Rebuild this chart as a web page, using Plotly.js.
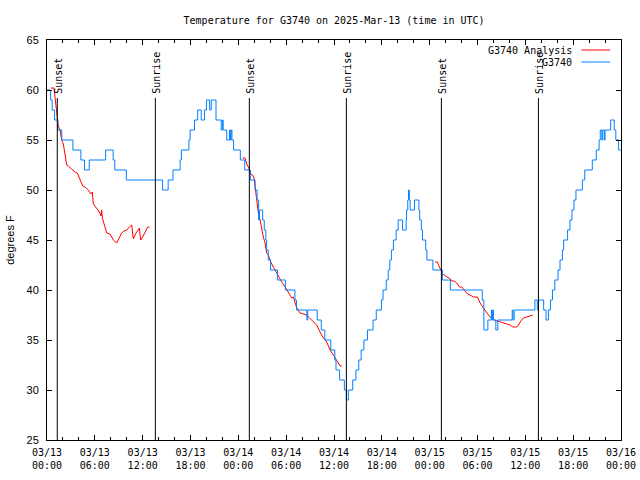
<!DOCTYPE html>
<html>
<head>
<meta charset="utf-8">
<script src="https://cdn.plot.ly/plotly-3.0.1.min.js"></script>
<style>html,body{margin:0;padding:0;background:#fff;}#chart{width:640px;height:480px;}</style>
</head>
<body>
<div id="chart"></div>
<script>
// Hours after 2025-03-13 00:00 UTC
var obsHours = [0, 0.45, 0.65, 0.95, 1.35, 1.85, 3.25, 4.25, 4.7, 5.3, 7.35, 8.3, 8.5, 9.95, 14.5, 15.2, 15.8, 16.7, 16.85, 17.8, 17.95, 18.5, 18.9, 19.35, 19.75, 20.0, 20.4, 20.6, 21.2, 21.85, 22.0, 22.1, 22.55, 22.9, 23.0, 23.1, 23.2, 23.4, 24.25, 24.8, 25.5, 26.1, 26.35, 26.55, 26.65, 27.05, 27.25, 27.45, 27.55, 27.75, 28.05, 28.9, 29.9, 31.1, 31.3, 32.6, 32.7, 33.9, 34.4, 34.85, 35.6, 36.1, 36.25, 36.7, 37.3, 37.55, 37.8, 38.35, 38.75, 39.1, 39.4, 39.75, 40.2, 40.9, 41.3, 41.95, 42.15, 42.55, 42.8, 43.0, 43.2, 43.45, 43.8, 44.05, 44.6, 45.05, 45.1, 45.25, 45.35, 45.45, 45.55, 46.1, 46.65, 46.75, 46.95, 47.1, 47.5, 47.65, 48.4, 49.6, 50.6, 54.6, 54.8, 55.3, 55.75, 55.8, 55.9, 56.0, 56.3, 56.55, 58.35, 58.45, 58.6, 61.2, 61.5, 61.65, 62.3, 62.6, 62.9, 63.15, 63.4, 63.7, 64.1, 64.35, 64.65, 64.8, 65.3, 65.6, 65.85, 66.1, 66.35, 67.15, 67.45, 68.4, 68.9, 69.25, 69.4, 69.6, 69.7, 69.9, 70.0, 70.7, 71.15, 71.35, 71.7, 72];
var obsTemps = [60, 59, 58, 57, 56, 55, 54, 53, 52, 53, 54, 53, 52, 51, 50, 51, 52, 53, 54, 55, 56, 57, 58, 57, 58, 59, 58, 59, 57, 56, 57, 56, 55, 56, 55, 56, 55, 54, 53, 52, 51, 50, 49, 47, 48, 47, 46, 45, 44, 43, 42, 41, 40, 39, 38, 37, 38, 37, 36, 35, 34, 33, 32, 31, 30, 29, 30, 31, 32, 33, 34, 35, 36, 37, 38, 39, 40, 41, 42, 43, 44, 45, 46, 47, 46, 47, 48, 49, 50, 49, 48, 49, 48, 47, 46, 45, 44, 43, 42, 41, 40, 39, 36, 37, 38, 37, 38, 37, 36, 37, 38, 37, 38, 39, 38, 39, 38, 37, 38, 39, 40, 41, 42, 43, 44, 45, 46, 47, 48, 49, 50, 51, 52, 53, 54, 55, 56, 55, 56, 55, 56, 57, 56, 55, 54, 54];

var anaHours = [0.5, 0.88, 1.0, 1.13, 1.3, 1.42, 1.63, 1.84, 2.05, 2.26, 2.47, 2.68, 3.1, 3.51, 3.8, 4.14, 4.48, 4.77, 5.19, 5.48, 5.69, 5.81, 6.23, 6.57, 6.78, 6.86, 6.94, 7.19, 7.49, 7.9, 8.32, 8.74, 8.95, 9.37, 9.66, 10.0, 10.33, 10.62, 10.83, 11.17, 11.58, 11.75, 12.0, 12.38, 12.63, 12.84,
  18.0,
  24.55, 24.84, 25.05, 25.38, 25.55, 25.8, 25.97, 26.1, 26.31, 26.51, 26.73, 26.94, 27.14, 27.35, 27.56, 27.77, 28.06, 28.4, 28.73, 29.02, 29.44, 29.86, 30.28, 30.7, 30.9, 31.33, 31.74, 32.16, 32.58, 32.79, 33.21, 33.63, 33.84, 34.25, 34.67, 35.09, 35.51, 35.93, 36.35, 36.76, 36.97,
  42.0,
  48.68, 48.97, 49.22, 49.4, 49.65, 50.15, 50.48, 50.78, 51.07, 51.4, 51.74, 52.03, 52.45, 52.74, 53.07, 53.49, 53.99, 54.33, 54.74, 55.08, 55.37, 55.67, 56.09, 56.5, 56.84, 57.25, 57.68, 58.09, 58.43, 58.93, 59.14, 59.43, 59.77, 60.19, 60.51, 60.94];
var anaTemps = [60.2, 60.2, 59.3, 58.3, 57.2, 56.4, 56, 55, 54.6, 53.7, 52.5, 52.4, 52.1, 51.8, 51.7, 51.1, 50.4, 50.3, 50, 49.6, 49.8, 48.6, 48.2, 47.8, 47.4, 48.0, 47.2, 46.5, 45.7, 45.6, 45, 44.7, 45, 45.7, 45.9, 46, 46.3, 46.5, 45.1, 45.7, 46.2, 45, 45.3, 46, 46.3, 46.3,
  null,
  53.2, 53.2, 52.6, 52.1, 51.6, 51.5, 51.2, 50.3, 49, 47.7, 47, 46, 45.3, 44.7, 43.7, 43.5, 42.8, 42.3, 41.8, 41.5, 40.8, 40.3, 39.7, 39.2, 39.3, 38.2, 37.7, 37.6, 37.5, 37.3, 37, 36.6, 36.5, 35.8, 35.2, 34.8, 34, 33.5, 33, 32.4, 32.4,
  null,
  42.8, 42.8, 42.3, 42, 41.6, 41.3, 41.2, 40.9, 40.9, 40.7, 40.3, 40.3, 39.9, 39.6, 39.5, 39.3, 39.3, 38.7, 38.2, 37.8, 37.5, 37.2, 37, 36.9, 36.8, 36.7, 36.6, 36.5, 36.3, 36.3, 36.5, 36.9, 37.2, 37.3, 37.4, 37.5];

var sunHours = [1.29, 13.59, 25.38, 37.55, 49.47, 61.64];
var sunLabels = ['Sunset', 'Sunrise', 'Sunset', 'Sunrise', 'Sunset', 'Sunrise'];

var seriesNames = ['G3740 Analysis', 'G3740'];
var seriesColors = ['#ff0000', '#0080ff'];

var T0 = Date.UTC(2025, 2, 13, 0, 0, 0);
function toDate(h) {
  if (h === null) return null;
  return new Date(T0 + h * 3600000).toISOString().slice(0, 19).replace('T', ' ');
}

var mono = 'DejaVu Sans Mono, Liberation Mono, monospace';
var sans = 'Liberation Sans, Arial, sans-serif';

var traces = [
  {
    x: anaHours.map(toDate), y: anaTemps, type: 'scatter', mode: 'lines',
    name: seriesNames[0], line: {color: seriesColors[0], width: 1}, connectgaps: false, showlegend: false
  },
  {
    x: obsHours.map(toDate), y: obsTemps, type: 'scatter', mode: 'lines',
    name: seriesNames[1], line: {color: seriesColors[1], width: 1, shape: 'hv'}, showlegend: false
  }
];

var shapes = [];
var annotations = [];
sunHours.forEach(function (h, i) {
  shapes.push({type: 'line', xref: 'x', yref: 'y', x0: toDate(h), x1: toDate(h), y0: 25, y1: 59.2,
    line: {color: '#000', width: 1}});
  annotations.push({x: toDate(h), y: 59.45, xref: 'x', yref: 'y', text: sunLabels[i], showarrow: false,
    textangle: -90, xanchor: 'center', yanchor: 'bottom', xshift: 1,
    font: {family: mono, size: 10, color: '#000'}});
});

// key (gnuplot style: text then sample line)
var keyY = [0.975, 0.945];
seriesNames.forEach(function (n, i) {
  annotations.push({x: 0.918, y: keyY[i], xref: 'paper', yref: 'paper', text: n, showarrow: false,
    xanchor: 'right', yanchor: 'middle', font: {family: mono, size: 10, color: '#000'}});
  shapes.push({type: 'line', xref: 'paper', yref: 'paper', x0: 0.931, x1: 0.981, y0: keyY[i], y1: keyY[i],
    line: {color: seriesColors[i], width: 1}});
});

var layout = {
  width: 640, height: 480,
  margin: {l: 47, r: 19, t: 40, b: 40},
  paper_bgcolor: '#fff', plot_bgcolor: '#fff',
  showlegend: false,
  title: {text: 'Temperature for G3740 on 2025-Mar-13 (time in UTC)', x: 0.522, xref: 'container', xanchor: 'center',
    y: 1 - 20 / 480, yref: 'container', yanchor: 'middle', font: {family: mono, size: 10, color: '#000'}},
  xaxis: {
    type: 'date', range: [toDate(0), toDate(72)],
    tickmode: 'linear', tick0: toDate(0), dtick: 6 * 3600000,
    tickformat: '%m/%d<br>%H:%M',
    ticks: 'inside', ticklen: 5, tickcolor: '#000', tickwidth: 1,
    minor: {dtick: 2 * 3600000, ticks: 'inside', ticklen: 3, tickcolor: '#000', showgrid: false},
    showline: true, linecolor: '#000', linewidth: 1, mirror: 'ticks',
    showgrid: false, zeroline: false,
    tickfont: {family: mono, size: 10, color: '#000'},
    ticklabelstandoff: 3,
    fixedrange: true
  },
  yaxis: {
    range: [25, 65], tickmode: 'linear', tick0: 25, dtick: 5,
    ticks: 'inside', ticklen: 5, tickcolor: '#000', tickwidth: 1,
    showline: true, linecolor: '#000', linewidth: 1, mirror: 'ticks',
    showgrid: false, zeroline: false,
    tickfont: {family: sans, size: 11, color: '#000'},
    ticklabelstandoff: 5,
    title: {text: 'degrees F', font: {family: sans, size: 11, color: '#000'}, standoff: 9},
    automargin: false,
    fixedrange: true
  },
  shapes: shapes,
  annotations: annotations
};

Plotly.newPlot('chart', traces, layout, {displayModeBar: false, staticPlot: true});
</script>
</body>
</html>
